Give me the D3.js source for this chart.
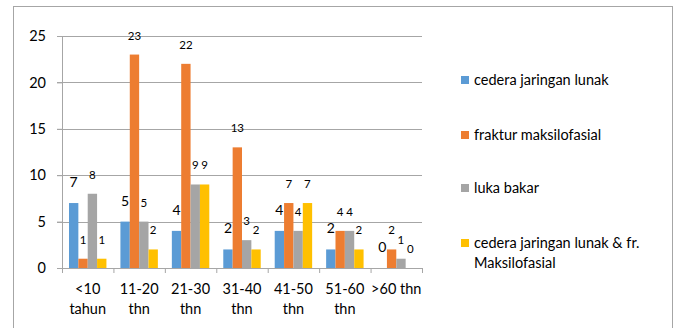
<!DOCTYPE html>
<html lang="en">
<head>
<meta charset="UTF-8">
<title>Bar chart</title>
<script src="https://d3js.org/d3.v7.min.js"></script>
<style>
  body { margin: 0; background: #fff; }
  text { font-family: Lato, "Liberation Sans", sans-serif; fill: #000; }
</style>
</head>
<body>
<div id="chart"></div>
<script>
const categories = [["<10", "tahun"], ["11-20", "thn"], ["21-30", "thn"], ["31-40", "thn"], ["41-50", "thn"], ["51-60", "thn"], [">60 thn"]];
const seriesNames = ["cedera jaringan lunak", "fraktur maksilofasial", "luka bakar", "cedera jaringan lunak & fr.\nMaksilofasial"];
const cederaLunak = [7, 5, 4, 2, 4, 2, 0];
const frakturMaksilofasial = [1, 23, 22, 13, 7, 4, 2];
const lukaBakar = [8, 5, 9, 3, 4, 4, 1];
const cederaDanFraktur = [1, 2, 9, 2, 7, 2, 0];
const yTicks = [0, 5, 10, 15, 20, 25];
const colors = ["#5B9BD5", "#ED7D31", "#A5A5A5", "#FFC000"];

const allSeries = [cederaLunak, frakturMaksilofasial, lukaBakar, cederaDanFraktur];

const W = 676, H = 328;
const svg = d3.select("#chart").append("svg").attr("width", W).attr("height", H);

// outer frame
svg.append("rect")
  .attr("x", 13.5).attr("y", 6.5).attr("width", 659).attr("height", 330)
  .attr("fill", "none").attr("stroke", "#A6A6A6");

const plot = { left: 62, right: 422, top: 36, bottom: 268 };

const x0 = d3.scaleBand()
  .domain(d3.range(categories.length))
  .range([plot.left, plot.right])
  .paddingInner(0).paddingOuter(0);

const x1 = d3.scaleBand()
  .domain(d3.range(allSeries.length))
  .range([x0.bandwidth() * 0.136, x0.bandwidth() * 0.864]);

const y = d3.scaleLinear().domain([0, 25]).range([plot.bottom, plot.top]);

// gridlines
svg.append("g")
  .selectAll("line")
  .data(yTicks.filter(d => d > 0))
  .join("line")
  .attr("x1", plot.left - 5).attr("x2", plot.right)
  .attr("y1", d => Math.round(y(d)) + 0.5).attr("y2", d => Math.round(y(d)) + 0.5)
  .attr("stroke", "#A6A6A6");

// bars
const groups = svg.append("g").selectAll("g")
  .data(categories)
  .join("g")
  .attr("transform", (d, i) => `translate(${x0(i)},0)`);

groups.selectAll("rect")
  .data((d, i) => allSeries.map((s, k) => ({ k, v: s[i] })))
  .join("rect")
  .attr("x", d => x1(d.k))
  .attr("width", x1.bandwidth())
  .attr("y", d => y(d.v))
  .attr("height", d => y(0) - y(d.v))
  .attr("fill", d => colors[d.k]);

// value labels
groups.selectAll("text.val")
  .data((d, i) => allSeries.map((s, k) => ({ k, v: s[i] })))
  .join("text")
  .attr("class", "val")
  .attr("x", d => x1(d.k) + x1.bandwidth() / 2)
  .attr("y", d => y(d.v) - (d.k === 0 ? 16 : 15))
  .attr("text-anchor", "middle")
  .style("font-size", d => d.k === 0 ? "14px" : "11.5px")
  .text(d => d.v);

// axes
const yAxis = svg.append("g")
  .attr("transform", `translate(${plot.left},0)`)
  .call(d3.axisLeft(y).tickValues(yTicks).tickSize(5).tickPadding(11));
yAxis.select(".domain").attr("stroke", "#A6A6A6");
yAxis.selectAll(".tick line").attr("stroke", "#A6A6A6");
yAxis.selectAll(".tick text").style("font-size", "14.5px").style("font-family", "Lato, sans-serif");

const xAxis = svg.append("g")
  .attr("transform", `translate(0,${plot.bottom})`)
  .call(d3.axisBottom(d3.scaleLinear().domain([0, categories.length]).range([plot.left, plot.right]))
    .tickValues(d3.range(categories.length + 1)).tickSize(5).tickFormat(""));
xAxis.select(".domain").attr("stroke", "#A6A6A6");
xAxis.selectAll(".tick line").attr("stroke", "#A6A6A6");

svg.append("g").selectAll("text")
  .data(categories)
  .join("text")
  .attr("x", (d, i) => x0(i) + x0.bandwidth() / 2)
  .attr("y", 294)
  .attr("text-anchor", "middle")
  .style("font-size", "14.5px")
  .selectAll("tspan")
  .data(d => d)
  .join("tspan")
  .attr("x", function () { return d3.select(this.parentNode).attr("x"); })
  .attr("dy", (d, j) => j === 0 ? 0 : 20)
  .text(d => d);

// legend
const legendY = [80, 135, 188, 243];
const legend = svg.append("g").selectAll("g")
  .data(seriesNames)
  .join("g")
  .attr("transform", (d, i) => `translate(461,${legendY[i]})`);
legend.append("rect")
  .attr("x", 0).attr("y", -4).attr("width", 8).attr("height", 8)
  .attr("fill", (d, i) => colors[i]);
legend.append("text")
  .attr("x", 13).attr("y", 5)
  .style("font-size", "14.5px")
  .selectAll("tspan")
  .data(d => d.split("\n"))
  .join("tspan")
  .attr("x", 13)
  .attr("dy", (d, j) => j === 0 ? 0 : 20)
  .text(d => d);
</script>
</body>
</html>
